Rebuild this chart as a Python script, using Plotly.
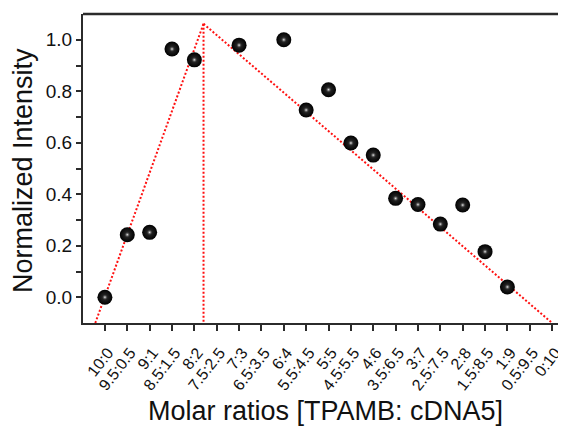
import plotly.graph_objects as go

categories = ["10:0", "9.5:0.5", "9:1", "8.5:1.5", "8:2", "7.5:2.5", "7:3", "6.5:3.5",
              "6:4", "5.5:4.5", "5:5", "4.5:5.5", "4:6", "3.5:6.5", "3:7", "2.5:7.5",
              "2:8", "1.5:8.5", "1:9", "0.5:9.5", "0:10"]

point_idx = [0, 1, 2, 3, 4, 6, 8, 9, 10, 11, 12, 13, 14, 15, 16, 17, 18]
intensity = [0.0, 0.243, 0.252, 0.964, 0.922, 0.979, 1.0, 0.727, 0.806, 0.599,
             0.552, 0.384, 0.360, 0.284, 0.358, 0.177, 0.040]

# fitted (dotted) lines: rising fit, apex vertical, falling fit
fit_rise_x = [-0.43, 4.41]
fit_rise_y = [-0.1, 1.062]
fit_vert_x = [4.41, 4.41]
fit_vert_y = [1.062, -0.1]
fit_fall_x = [4.41, 20.0]
fit_fall_y = [1.062, -0.1]

FONT = "Liberation Sans, Arial, sans-serif"
AX = "#2b2b2b"

fig = go.Figure()
for fx, fy in [(fit_rise_x, fit_rise_y), (fit_vert_x, fit_vert_y), (fit_fall_x, fit_fall_y)]:
    fig.add_trace(go.Scatter(x=fx, y=fy, mode="lines",
                             line=dict(color="#ff1010", width=2, dash="2px,2px"),
                             hoverinfo="skip", showlegend=False))

fig.add_trace(go.Scatter(
    x=point_idx, y=intensity, mode="markers", showlegend=False,
    marker=dict(size=15, color="#000000",
                gradient=dict(type="radial", color="#333333"),
                line=dict(width=0))))
fig.add_trace(go.Scatter(
    x=point_idx, y=intensity, mode="markers", showlegend=False, hoverinfo="skip",
    marker=dict(size=6, color="rgba(40,40,40,0)",
                gradient=dict(type="radial", color="rgba(240,240,240,1)"),
                line=dict(width=0))))

# page body has an 8px margin: figure is 558x419 so it ends at the window edge
fig.update_layout(
    width=558, height=419,
    margin=dict(l=75, r=0, t=6, b=104),
    paper_bgcolor="white", plot_bgcolor="white",
    font=dict(family=FONT, color="#111111"),
    xaxis=dict(range=[-0.98, 20.62], tickmode="array",
               tickvals=list(range(len(categories))), ticktext=categories,
               tickangle=-52, tickfont=dict(size=16), automargin=False,
               ticklabelstandoff=6, ticklabelshift=3, ticklabeloverflow="allow",
               showline=True, linecolor=AX, linewidth=2,
               ticks="outside", ticklen=6, tickwidth=1.5, tickcolor=AX,
               showgrid=False, zeroline=False),
    yaxis=dict(range=[-0.1, 1.1], tickmode="array",
               tickvals=[0.0, 0.2, 0.4, 0.6, 0.8, 1.0],
               ticktext=["0.0", "0.2", "0.4", "0.6", "0.8", "1.0"],
               tickfont=dict(size=19), automargin=False,
               showline=True, linecolor=AX, linewidth=2,
               ticks="outside", ticklen=5, tickwidth=1.5, tickcolor=AX,
               minor=dict(ticks="outside", ticklen=5, tickwidth=1.5, tickcolor=AX,
                          tickvals=[0.1, 0.3, 0.5, 0.7, 0.9]),
               showgrid=False, zeroline=False),
    shapes=[dict(type="line", xref="paper", yref="paper", x0=0, x1=1, y0=1, y1=1,
                 line=dict(color=AX, width=2.5))],
    annotations=[
        dict(text="Molar ratios [TPAMB: cDNA5]", xref="paper", yref="paper",
             x=0.503, y=-0.285, xanchor="center", yanchor="middle",
             showarrow=False, font=dict(size=27)),
        dict(text="Normalized Intensity", xref="paper", yref="paper",
             x=-0.124, y=0.492, xanchor="center", yanchor="middle", textangle=-90,
             showarrow=False, font=dict(size=27)),
    ],
)

fig.write_html("out.html")
